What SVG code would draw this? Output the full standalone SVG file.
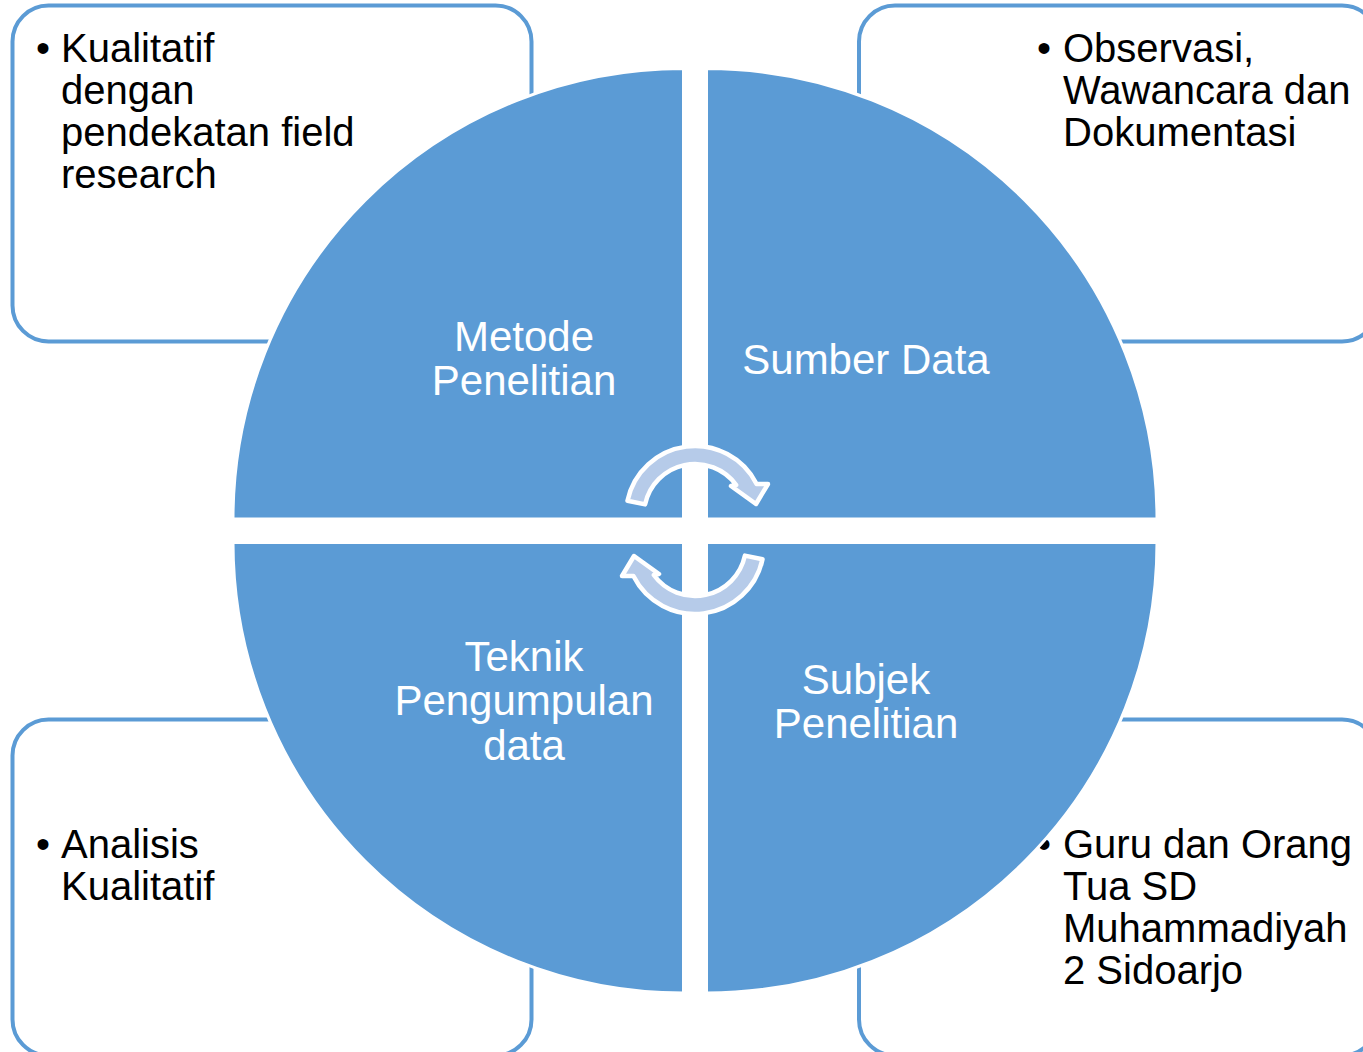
<svg xmlns="http://www.w3.org/2000/svg" width="1363" height="1052" viewBox="0 0 1363 1052">
  <style>
    .box { fill: #FFFFFF; stroke: #5B9BD5; stroke-width: 4; }
    .btxt { font-family: "Liberation Sans", Arial, sans-serif; font-size: 40px; fill: #000000; }
    .quad { fill: #5B9BD5; stroke: #FFFFFF; stroke-width: 3; }
    .qtxt { font-family: "Liberation Sans", Arial, sans-serif; font-size: 42px; fill: #FFFFFF; text-anchor: middle; }
    .carrow { fill: #B6CBE9; stroke: #FFFFFF; stroke-width: 4.5; stroke-linejoin: round; }
  </style>
  <rect width="1363" height="1052" fill="#FFFFFF"/>

  <g id="box-tl">
    <rect class="box" x="12.5" y="5.5" width="519" height="336" rx="36" ry="36"/>
    <text class="btxt" x="36" y="62">•</text>
    <text class="btxt"><tspan x="61" y="62">Kualitatif</tspan><tspan x="61" y="104">dengan</tspan><tspan x="61" y="146">pendekatan field</tspan><tspan x="61" y="188">research</tspan></text>
  </g>
  <g id="box-tr">
    <rect class="box" x="859" y="5.5" width="519" height="336" rx="36" ry="36"/>
    <text class="btxt" x="1037" y="62">•</text>
    <text class="btxt"><tspan x="1063" y="62">Observasi,</tspan><tspan x="1063" y="104">Wawancara dan</tspan><tspan x="1063" y="146">Dokumentasi</tspan></text>
  </g>
  <g id="box-bl">
    <rect class="box" x="12.5" y="719.5" width="519" height="336" rx="36" ry="36"/>
    <text class="btxt" x="36" y="858">•</text>
    <text class="btxt"><tspan x="61" y="858">Analisis</tspan><tspan x="61" y="900">Kualitatif</tspan></text>
  </g>
  <g id="box-br">
    <rect class="box" x="859" y="719.5" width="519" height="336" rx="36" ry="36"/>
    <text class="btxt" x="1037" y="858">•</text>
    <text class="btxt"><tspan x="1063" y="858">Guru dan Orang</tspan><tspan x="1063" y="900">Tua SD</tspan><tspan x="1063" y="942">Muhammadiyah</tspan><tspan x="1063" y="984">2 Sidoarjo</tspan></text>
  </g>

  <g id="quad-metode">
    <path class="quad" d="M683.5 519 L233 519 A450.5 450.5 0 0 1 683.5 68.5 Z"/>
    <text class="qtxt"><tspan x="524" y="351">Metode</tspan><tspan x="524" y="395">Penelitian</tspan></text>
  </g>
  <g id="quad-sumber">
    <path class="quad" d="M706.5 519 L706.5 68.5 A450.5 450.5 0 0 1 1157 519 Z"/>
    <text class="qtxt"><tspan x="866" y="374">Sumber Data</tspan></text>
  </g>
  <g id="quad-subjek">
    <path class="quad" d="M706.5 542.5 L1157 542.5 A450.5 450.5 0 0 1 706.5 993 Z"/>
    <text class="qtxt"><tspan x="866" y="694">Subjek</tspan><tspan x="866" y="738">Penelitian</tspan></text>
  </g>
  <g id="quad-teknik">
    <path class="quad" d="M683.5 542.5 L683.5 993 A450.5 450.5 0 0 1 233 542.5 Z"/>
    <text class="qtxt"><tspan x="524" y="671">Teknik</tspan><tspan x="524" y="715">Pengumpulan</tspan><tspan x="524" y="760">data</tspan></text>
  </g>

  <g id="connectors">
    <path class="carrow" d="M627.5 500.7 A69 69 0 0 1 756.6 484 L768 484 L756 504 L731 486 L736.2 485 A51 51 0 0 0 645.1 504.4 Z"/>
    <path class="carrow" transform="rotate(180 695 530)" d="M627.5 500.7 A69 69 0 0 1 756.6 484 L768 484 L756 504 L731 486 L736.2 485 A51 51 0 0 0 645.1 504.4 Z"/>
  </g>
</svg>
